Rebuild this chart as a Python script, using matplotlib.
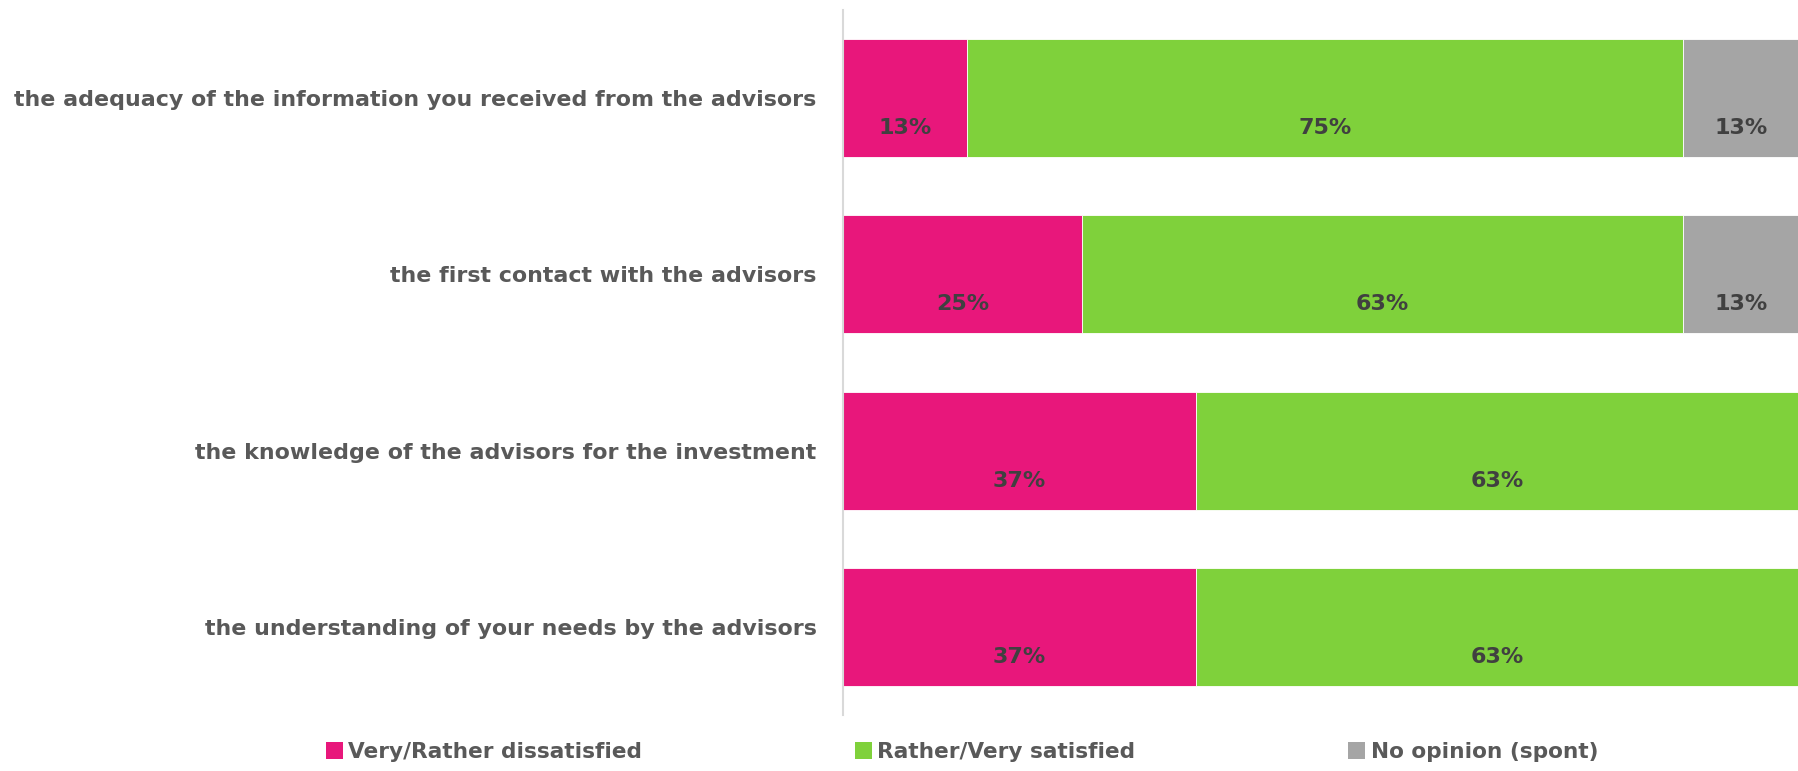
import numpy as np
import matplotlib.pyplot as plt
from matplotlib.patches import Patch

# Data
categories = [
    "the adequacy of the information you received from the advisors",
    "the first contact with the advisors",
    "the knowledge of the advisors for the investment",
    "the understanding of your needs by the advisors",
]
dissatisfied = [13, 25, 37, 37]
satisfied = [75, 63, 63, 63]
no_opinion = [13, 13, 0, 0]
series_names = ["Very/Rather dissatisfied", "Rather/Very satisfied", "No opinion (spont)"]
colors = ["#E8177B", "#7FD13B", "#A5A5A5"]

plt.rcParams['font.family'] = ['DejaVu Sans']

fig = plt.figure(figsize=(17.98, 7.71), dpi=100)
ax = fig.add_axes([843 / 1798, 1 - 715 / 771, 1 - 843 / 1798, 705 / 771])

y = np.arange(len(categories))
left = np.zeros(len(categories))
for vals, col in zip([dissatisfied, satisfied, no_opinion], colors):
    vals = np.array(vals, dtype=float)
    ax.barh(y, vals, left=left, height=0.67, color=col, edgecolor='white', linewidth=0.6)
    for yi, l, v in zip(y, left, vals):
        if v > 0:
            cx = l + v / 2
            if l + v > 100:
                cx = l + (100 - l) / 2
            ax.text(cx, yi + 0.17, f"{int(v)}%", ha='center', va='center',
                    fontsize=16, fontweight='bold', color='#404040')
    left += vals

ax.set_xlim(0, 100)
ax.set_ylim(len(categories) - 0.5, -0.5)
ax.set_yticks(y)
ax.set_yticklabels(categories, fontsize=15.9, fontweight='bold', color='#595959')
ax.tick_params(axis='y', length=0, pad=19)
ax.set_xticks([])
for s in ['top', 'right', 'bottom']:
    ax.spines[s].set_visible(False)
ax.spines['left'].set_color('#D9D9D9')
ax.spines['left'].set_linewidth(1.5)

handles = [Patch(facecolor=c, edgecolor='none') for c in colors]
leg = fig.legend(handles, series_names, loc='lower center', bbox_to_anchor=(0.535, -0.014),
                 ncol=3, frameon=False, handlelength=0.8, handleheight=0.8,
                 handletextpad=0.25, columnspacing=9.8,
                 prop={'size': 15.6, 'weight': 'bold'})
for t in leg.get_texts():
    t.set_color('#595959')

fig.savefig('out.png', dpi=100)
